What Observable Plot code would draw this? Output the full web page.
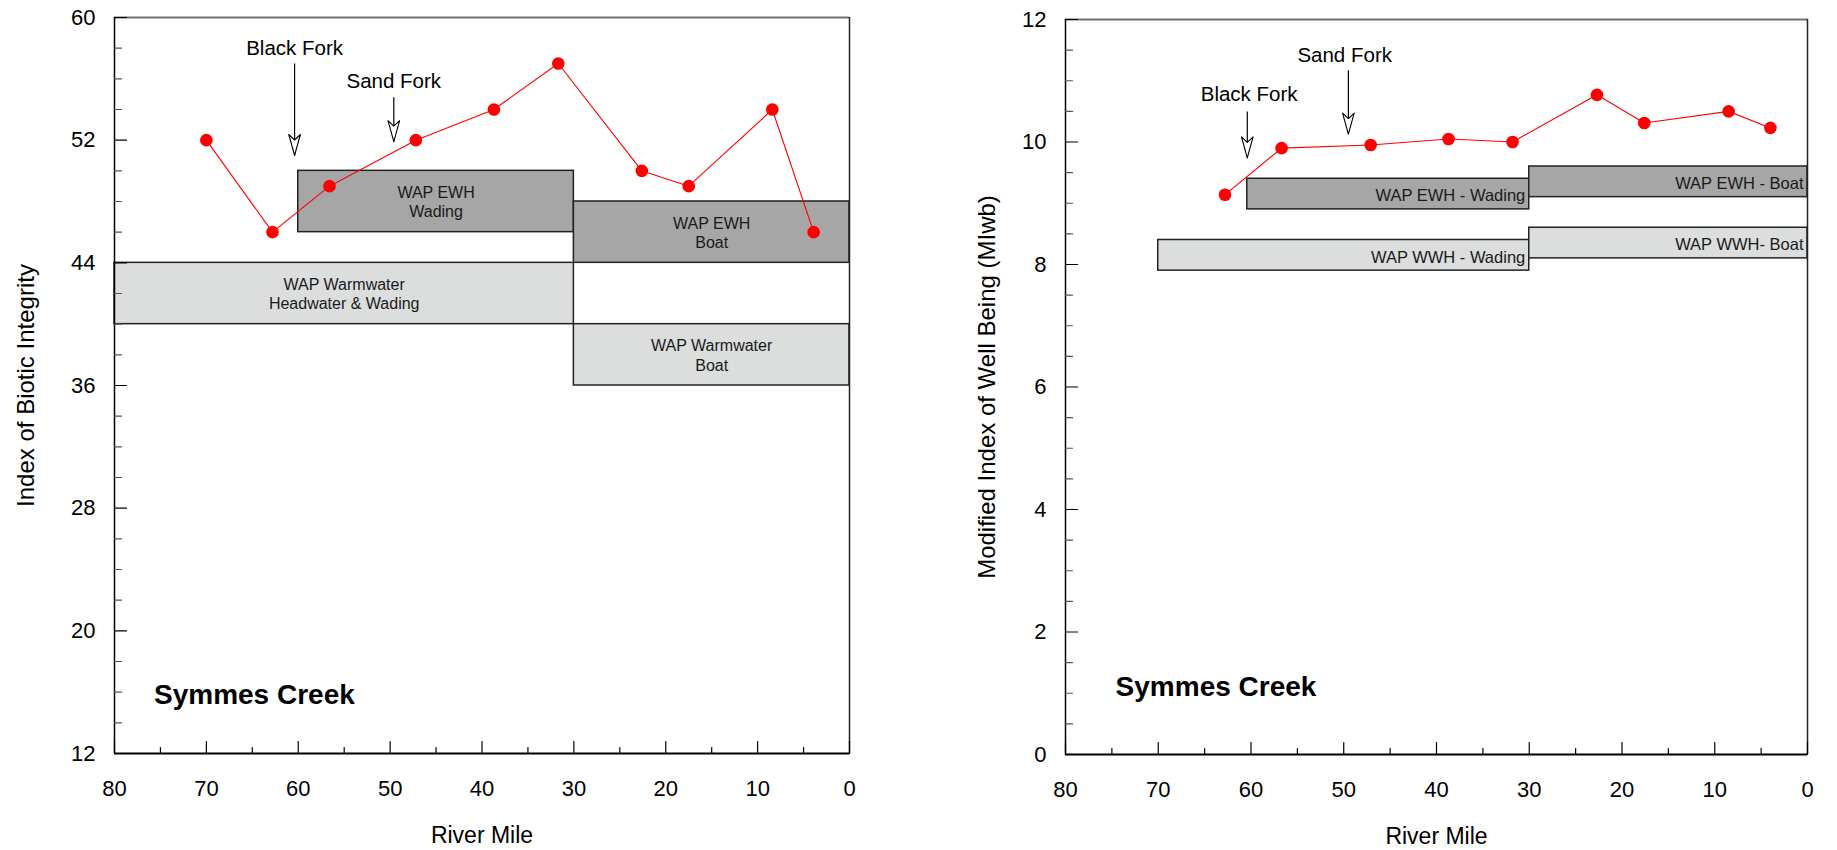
<!DOCTYPE html>
<html>
<head>
<meta charset="utf-8">
<script src="https://cdn.jsdelivr.net/npm/d3@7"></script>
<script src="https://cdn.jsdelivr.net/npm/@observablehq/plot@0.6"></script>
<style>
  html, body { margin: 0; padding: 0; background: #fff; overflow: hidden; }
  #charts { display: flex; width: 1837px; height: 850px; }
</style>
</head>
<body>
<div id="charts"></div>
<script>
// ---- Symmes Creek: fish community indices by river mile ----
const streamName = "Symmes Creek";
const xTitle = "River Mile";
const mileTicks = [80, 70, 60, 50, 40, 30, 20, 10, 0];

// Index of Biotic Integrity (IBI)
const ibiTitle = "Index of Biotic Integrity";
const ibiMiles  = [70.0, 62.8, 56.6, 47.2, 38.7, 31.7, 22.6, 17.5, 8.4, 3.9];
const ibiValues = [52, 46, 49, 52, 54, 57, 50, 49, 54, 46];
const ibiTicks  = [12, 20, 28, 36, 44, 52, 60];

// IBI aquatic life use criteria bands
const ibiBandNames = ["WAP EWH\nWading", "WAP EWH\nBoat", "WAP Warmwater\nHeadwater & Wading", "WAP Warmwater\nBoat"];
const ibiBandFrom  = [60, 30, 80, 30];
const ibiBandTo    = [30, 0, 30, 0];
const ibiBandLow   = [46, 44, 40, 36];
const ibiBandHigh  = [50, 48, 44, 40];
const ibiBandUse   = ["EWH", "EWH", "WWH", "WWH"];

// Tributary confluences on the IBI panel
const ibiTribNames = ["Black Fork", "Sand Fork"];
const ibiTribMiles = [60.4, 49.6];
const ibiTribLabel = [58.0, 55.8];
const ibiTribTail  = [57.0, 54.8];
const ibiTribTip   = [51.0, 51.9];

// Modified Index of Well Being (MIwb)
const miwbTitle = "Modified Index of Well Being (MIwb)";
const miwbMiles  = [62.8, 56.7, 47.1, 38.7, 31.8, 22.7, 17.6, 8.5, 4.0];
const miwbValues = [9.14, 9.90, 9.95, 10.05, 10.00, 10.77, 10.31, 10.50, 10.23];
const miwbTicks  = [0, 2, 4, 6, 8, 10, 12];

// MIwb aquatic life use criteria bands
const miwbBandNames = ["WAP EWH - Wading", "WAP EWH - Boat", "WAP WWH - Wading", "WAP WWH- Boat"];
const miwbBandFrom  = [60.4, 30, 70, 30];
const miwbBandTo    = [30, 0, 30, 0];
const miwbBandLow   = [8.9, 9.1, 7.9, 8.1];
const miwbBandHigh  = [9.4, 9.6, 8.4, 8.6];
const miwbBandUse   = ["EWH", "EWH", "WWH", "WWH"];

// Tributary confluences on the MIwb panel
const miwbTribNames = ["Black Fork", "Sand Fork"];
const miwbTribMiles = [60.4, 49.5];
const miwbTribTextMiles = [60.2, 49.9];
const miwbTribLabel = [10.78, 11.41];
const miwbTribTail  = [10.50, 11.17];
const miwbTribTip   = [9.74, 10.13];

// ---- drawing helpers ----
const FONT = "'Liberation Sans', Arial, Helvetica, sans-serif";
const useFill = {EWH: "#a6a6a6", WWH: "#dcdddd"};

const tickRight = {draw(c, l) { c.moveTo(0, 0); c.lineTo(l, 0); }};
const tickUp    = {draw(c, l) { c.moveTo(0, 0); c.lineTo(0, -l); }};
// open, notched arrowhead; tip at the end of the vector
const openHead  = {draw(c, l) {
  c.moveTo(0, -l); c.lineTo(-5.8, 0); c.lineTo(0, -5.5); c.lineTo(5.8, 0); c.closePath();
}};

function zip(n, f) { return d3.range(n).map(f); }

function panel(cfg) {
  const {width, margins, yDomain, yTicks, yMinorStep, yTitle, yTitleDx,
         series, bands, tribs, nameAt, bandLabel} = cfg;
  const [yMin, yMax] = yDomain;
  const minor = d3.range(yMin, yMax + 1e-9, yMinorStep).filter(v => !yTicks.some(t => Math.abs(t - v) < 1e-9));
  const xMinor = d3.range(5, 80, 10);

  const bandText = bandLabel === "center"
    ? Plot.text(bands, {x: d => (d.from + d.to) / 2, y: d => (d.low + d.high) / 2, text: "name",
        fontSize: 16, lineHeight: 1.2, fill: "#1a1a1a"})
    : Plot.text(bands, {x: "to", y: d => (d.low + d.high) / 2, text: "name", textAnchor: "end",
        dx: -4, dy: 2, fontSize: 16.5, fill: "#1a1a1a"});

  return Plot.plot({
    width, height: 850,
    marginLeft: margins[0], marginRight: margins[1], marginTop: margins[2], marginBottom: margins[3],
    style: {fontFamily: FONT, background: "#fff", color: "#000", overflow: "visible"},
    x: {domain: [80, 0]},
    y: {domain: yDomain},
    marks: [
      // criteria bands
      Plot.rect(bands, {x1: "from", x2: "to", y1: "low", y2: "high",
        fill: d => useFill[d.use], stroke: "#222", strokeWidth: 1.5}),
      bandText,
      // frame
      Plot.ruleY([yMax], {stroke: "#707070", strokeWidth: 2}),
      Plot.ruleX([0], {stroke: "#222", strokeWidth: 1.5}),
      Plot.ruleX([80], {stroke: "#000", strokeWidth: 1.5}),
      Plot.ruleY([yMin], {stroke: "#000", strokeWidth: 1.8}),
      // inward ticks
      Plot.vector(minor, {y: d => d, frameAnchor: "left", length: 7, shape: tickRight, anchor: "start", stroke: "#555", strokeWidth: 1.2}),
      Plot.vector(yTicks, {y: d => d, frameAnchor: "left", length: 12, shape: tickRight, anchor: "start", stroke: "#000", strokeWidth: 1.2}),
      Plot.vector(xMinor, {x: d => d, frameAnchor: "bottom", length: 6, shape: tickUp, anchor: "start", stroke: "#000", strokeWidth: 1.2}),
      Plot.vector(mileTicks, {x: d => d, frameAnchor: "bottom", length: 12, shape: tickUp, anchor: "start", stroke: "#000", strokeWidth: 1.2}),
      // tick labels
      Plot.axisY({ticks: yTicks, tickSize: 0, tickPadding: 19, fontSize: 22, tickFormat: d => String(d), label: null}),
      Plot.axisX({ticks: mileTicks, tickSize: 0, tickPadding: 27, fontSize: 22, tickFormat: d => String(d), label: null}),
      // axis titles
      Plot.text([yTitle], {frameAnchor: "left", rotate: -90, dx: yTitleDx, textAnchor: "middle", lineAnchor: "middle", fontSize: 24}),
      Plot.text([xTitle], {frameAnchor: "bottom", dy: 82, textAnchor: "middle", lineAnchor: "middle", fontSize: 23}),
      // tributary confluence arrows
      Plot.link(tribs, {x1: "mile", x2: "mile", y1: "tail", y2: "tip", stroke: "#000", strokeWidth: 1.2}),
      Plot.vector(tribs, {x: "mile", y: "tip", rotate: 180, anchor: "end", length: 21, shape: openHead,
        fill: "#fff", stroke: "#000", strokeWidth: 1.1}),
      Plot.text(tribs, {x: "textMile", y: "label", text: "name", fontSize: 20.5}),
      // sampling results
      Plot.line(series, {x: "mile", y: "value", stroke: "#ff0000", strokeWidth: 1.1}),
      Plot.dot(series, {x: "mile", y: "value", r: 6.3, fill: "#ff0000", stroke: "none"}),
      // stream name
      Plot.text([streamName], {x: nameAt[0], y: nameAt[1], textAnchor: "start", fontSize: 28, fontWeight: "bold"})
    ]
  });
}

const ibiSeries = zip(ibiMiles.length, i => ({mile: ibiMiles[i], value: ibiValues[i]}));
const ibiBands = zip(ibiBandNames.length, i => ({name: ibiBandNames[i], from: ibiBandFrom[i], to: ibiBandTo[i],
  low: ibiBandLow[i], high: ibiBandHigh[i], use: ibiBandUse[i]}));
const ibiTribs = zip(ibiTribNames.length, i => ({name: ibiTribNames[i], mile: ibiTribMiles[i], textMile: ibiTribMiles[i],
  label: ibiTribLabel[i], tail: ibiTribTail[i], tip: ibiTribTip[i]}));

const miwbSeries = zip(miwbMiles.length, i => ({mile: miwbMiles[i], value: miwbValues[i]}));
const miwbBands = zip(miwbBandNames.length, i => ({name: miwbBandNames[i], from: miwbBandFrom[i], to: miwbBandTo[i],
  low: miwbBandLow[i], high: miwbBandHigh[i], use: miwbBandUse[i]}));
const miwbTribs = zip(miwbTribNames.length, i => ({name: miwbTribNames[i], mile: miwbTribMiles[i], textMile: miwbTribTextMiles[i],
  label: miwbTribLabel[i], tail: miwbTribTail[i], tip: miwbTribTip[i]}));

const host = document.getElementById("charts");
host.append(panel({
  width: 918, margins: [114, 69, 17, 97],
  yDomain: [12, 60], yTicks: ibiTicks, yMinorStep: 2,
  yTitle: ibiTitle, yTitleDx: -88,
  series: ibiSeries, bands: ibiBands, tribs: ibiTribs,
  nameAt: [75.7, 15.8], bandLabel: "center"
}));
host.append(panel({
  width: 919, margins: [147, 30, 19, 96],
  yDomain: [0, 12], yTicks: miwbTicks, yMinorStep: 0.5,
  yTitle: miwbTitle, yTitleDx: -78,
  series: miwbSeries, bands: miwbBands, tribs: miwbTribs,
  nameAt: [74.6, 1.10], bandLabel: "right"
}));
</script>
</body>
</html>
